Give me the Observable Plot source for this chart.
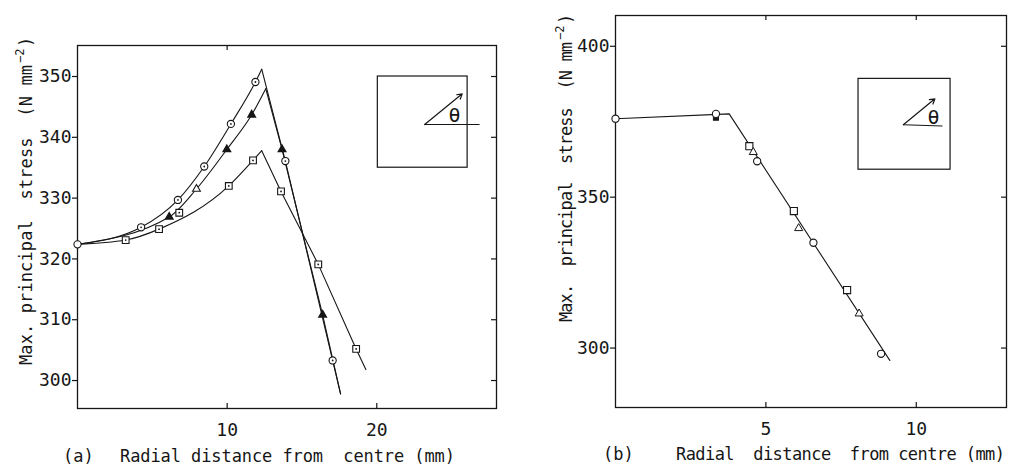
<!DOCTYPE html>
<html>
<head>
<meta charset="utf-8">
<script src="https://cdn.jsdelivr.net/npm/d3@7"></script>
<script src="https://cdn.jsdelivr.net/npm/@observablehq/plot@0.6"></script>
<style>
  html, body { margin: 0; padding: 0; background: #fff; }
  #wrap { position: relative; width: 1013px; height: 467px; overflow: hidden; }
  #a { position: absolute; left: 0; top: 0; }
  #b { position: absolute; left: 500px; top: 0; }
</style>
</head>
<body>
<div id="wrap"><div id="a"></div><div id="b"></div></div>
<script>
// ---------- Panel (a) data ----------
const aYTicks = [300, 310, 320, 330, 340, 350];
const aXTicks = [10, 20];
const aTopTicks = [10];
// markers
const aCircleX = [0, 4.25, 6.71, 8.47, 10.25, 11.89, 13.89, 17.05];
const aCircleY = [322.4, 325.2, 329.7, 335.2, 342.2, 349.1, 336.1, 303.3];
const aSquareX = [3.22, 5.45, 6.8, 10.11, 11.73, 13.6, 16.09, 18.62];
const aSquareY = [323.1, 324.9, 327.6, 332.0, 336.2, 331.1, 319.1, 305.2];
const aTriFilledX = [6.13, 9.98, 11.64, 13.67, 16.38];
const aTriFilledY = [326.9, 338.0, 343.7, 338.0, 310.8];
const aTriOpenX = [7.95];
const aTriOpenY = [331.5];
// fitted curves (rising part smooth, falling part straight)
const aCircRiseX = [0, 4.25, 6.71, 8.47, 10.25, 11.89, 12.31];
const aCircRiseY = [322.4, 325.2, 329.7, 335.2, 342.2, 349.1, 351.2];
const aCircFallX = [12.31, 13.89, 17.05, 17.58];
const aCircFallY = [351.2, 336.1, 303.3, 297.8];
const aTriRiseX = [0, 6.13, 7.95, 9.98, 11.64, 12.58];
const aTriRiseY = [322.4, 326.9, 331.5, 338.0, 343.7, 348.0];
const aTriFallX = [12.58, 13.67, 16.38, 17.58];
const aTriFallY = [348.0, 338.0, 310.8, 297.8];
const aSqRiseX = [0, 3.22, 5.45, 10.11, 11.73, 12.31];
const aSqRiseY = [322.4, 323.1, 324.9, 332.0, 336.2, 337.8];
const aSqFallX = [12.31, 13.6, 16.09, 18.62, 19.27];
const aSqFallY = [337.8, 331.1, 319.1, 305.2, 301.8];
// inset (angle definition)
const aBox = {x1: 20.07, x2: 26.07, y1: 335.0, y2: 350.0};
const aBase = {x1: 23.2, y1: 342.1, x2: 26.87, y2: 342.1};
const aArrow = {x1: 23.2, y1: 342.1, x2: 25.71, y2: 347.15};
const aTheta = {x: 25.2, y: 343.6, t: "θ"};

// ---------- Panel (b) data ----------
const bYTicks = [300, 350, 400];
const bXTicks = [5, 10];
const bLineX = [0, 3.78, 9.12];
const bLineY = [376.0, 377.6, 295.9];
const bCircleX = [0, 3.34, 4.71, 6.58, 8.83];
const bCircleY = [376.0, 377.6, 361.9, 334.9, 298.1];
const bSquareX = [4.45, 5.93, 7.70];
const bSquareY = [366.9, 345.4, 319.2];
const bSquareFilledX = [3.34];
const bSquareFilledY = [376.3];
const bTriX = [4.58, 6.09, 8.10];
const bTriY = [364.9, 339.7, 311.4];
const bBox = {x1: 8.08, x2: 11.14, y1: 359.1, y2: 389.2};
const bBase = {x1: 9.57, y1: 374.0, x2: 10.87, y2: 373.6};
const bArrow = {x1: 9.57, y1: 374.0, x2: 10.62, y2: 382.6};
const bTheta = {x: 10.57, y: 376.5, t: "θ"};

const zip = (xs, ys) => xs.map((x, i) => ({x, y: ys[i]}));
const ink = "#161616";
const FONT = "'DejaVu Sans Mono', monospace";

function panel({width, height, mL, mR, mT, mB, xDom, yDom, yTicks, xTicks, topTicks, marks}) {
  const pw = width - mL - mR, ph = height - mT - mB;
  return Plot.plot({
    width, height, marginLeft: mL, marginRight: mR, marginTop: mT, marginBottom: mB,
    x: {domain: xDom}, y: {domain: yDom},
    style: {fontFamily: FONT, fontSize: "18px", color: ink, background: "white", overflow: "visible"},
    marks: [
      Plot.frame({stroke: ink, strokeWidth: 1.3}),
      Plot.axisY({anchor: "left", ticks: yTicks, tickSize: 5, tickPadding: 1, label: null, strokeWidth: 1.2}),
      Plot.tickY(yTicks, {y: d => d, insetLeft: pw - 5, stroke: ink, strokeWidth: 1.2}),
      Plot.axisX({anchor: "bottom", ticks: xTicks, tickSize: 0, tickPadding: 15, label: null}),
      Plot.tickX(xTicks, {x: d => d, insetTop: ph - 5, stroke: ink, strokeWidth: 1.2}),
      Plot.tickX(topTicks, {x: d => d, insetBottom: ph - 5, stroke: ink, strokeWidth: 1.2}),
      ...marks
    ]
  });
}

function inset(box, base, arrow, theta) {
  return [
    Plot.rect([box], {x1: "x1", x2: "x2", y1: "y1", y2: "y2", fill: "none", stroke: ink, strokeWidth: 1.2}),
    Plot.link([base], {x1: "x1", y1: "y1", x2: "x2", y2: "y2", stroke: ink, strokeWidth: 1.1}),
    Plot.arrow([arrow], {x1: "x1", y1: "y1", x2: "x2", y2: "y2", stroke: ink, strokeWidth: 1.2, headLength: 7}),
    Plot.text([theta], {x: "x", y: "y", text: "t", fontSize: 20, fill: ink, fontFamily: FONT})
  ];
}

const lineStyle = {x: "x", y: "y", stroke: ink, strokeWidth: 1.1};

const plotA = panel({
  width: 500, height: 467, mL: 77, mR: 4, mT: 45, mB: 59,
  xDom: [0, 28], yDom: [295.4, 355.1],
  yTicks: aYTicks, xTicks: aXTicks, topTicks: aTopTicks,
  marks: [
    Plot.line(zip(aCircRiseX, aCircRiseY), {...lineStyle, curve: "monotone-x"}),
    Plot.line(zip(aCircFallX, aCircFallY), lineStyle),
    Plot.line(zip(aTriRiseX, aTriRiseY), {...lineStyle, curve: "monotone-x"}),
    Plot.line(zip(aTriFallX, aTriFallY), lineStyle),
    Plot.line(zip(aSqRiseX, aSqRiseY), {...lineStyle, curve: "monotone-x"}),
    Plot.line(zip(aSqFallX, aSqFallY), lineStyle),
    Plot.dot(zip(aCircleX, aCircleY), {x: "x", y: "y", r: 3.6, fill: "white", stroke: ink, strokeWidth: 1.1}),
    Plot.dot(zip(aCircleX.slice(1), aCircleY.slice(1)), {x: "x", y: "y", r: 0.9, fill: ink}),
    Plot.dot(zip(aSquareX, aSquareY), {x: "x", y: "y", symbol: "square", r: 3.8, fill: "white", stroke: ink, strokeWidth: 1.1}),
    Plot.dot(zip(aSquareX, aSquareY), {x: "x", y: "y", r: 0.9, fill: ink}),
    Plot.dot(zip(aTriFilledX, aTriFilledY), {x: "x", y: "y", symbol: "triangle", r: 2.7, fill: ink, stroke: ink}),
    Plot.dot(zip(aTriOpenX, aTriOpenY), {x: "x", y: "y", symbol: "triangle", r: 2.9, fill: "white", stroke: ink, strokeWidth: 1.1}),
    ...inset(aBox, aBase, aArrow, aTheta)
  ]
});

const plotB = panel({
  width: 513, height: 467, mL: 115, mR: 7, mT: 15, mB: 60,
  xDom: [0, 13], yDom: [280.3, 410.2],
  yTicks: bYTicks, xTicks: bXTicks, topTicks: bXTicks,
  marks: [
    Plot.line(zip(bLineX, bLineY), lineStyle),
    Plot.dot(zip(bSquareFilledX, bSquareFilledY), {x: "x", y: "y", symbol: "square", r: 2.6, fill: ink, stroke: ink}),
    Plot.dot(zip(bCircleX, bCircleY), {x: "x", y: "y", r: 3.6, fill: "white", stroke: ink, strokeWidth: 1.1}),
    Plot.dot(zip(bSquareX, bSquareY), {x: "x", y: "y", symbol: "square", r: 4, fill: "white", stroke: ink, strokeWidth: 1.1}),
    Plot.dot(zip(bTriX, bTriY), {x: "x", y: "y", symbol: "triangle", r: 3, fill: "white", stroke: ink, strokeWidth: 1}),
    ...inset(bBox, bBase, bArrow, bTheta)
  ]
});

document.getElementById("a").appendChild(plotA);
document.getElementById("b").appendChild(plotB);

function addText(svg, {x, y, text, size = 17, len = null}) {
  const t = d3.select(svg).append("text")
    .attr("x", x).attr("y", y)
    .attr("text-anchor", "start")
    .attr("font-family", FONT).attr("font-size", size)
    .attr("fill", ink).attr("xml:space", "preserve")
    .style("white-space", "pre")
    .text(text);
  if (len) t.attr("textLength", len).attr("lengthAdjust", "spacing");
  return t;
}
function addYTitle(svg, {x, y, main, len}) {
  const g = d3.select(svg).append("g")
    .attr("transform", `translate(${x},${y}) rotate(-90)`)
    .attr("text-anchor", "start")
    .attr("font-family", FONT).attr("fill", ink);
  g.append("text").attr("font-size", 17).attr("xml:space", "preserve").style("white-space", "pre")
    .attr("textLength", len).attr("lengthAdjust", "spacing").text(main);
  g.append("text").attr("x", len + 2).attr("y", -8).attr("font-size", 12).text("−2");
  g.append("text").attr("x", len + 18).attr("font-size", 17).text(")");
}

addText(plotA, {x: 63, y: 462, text: "(a)"});
addText(plotA, {x: 120, y: 462, text: "Radial distance from  centre (mm)", len: 335});
addYTitle(plotA, {x: 32, y: 365, main: "Max. principal  stress  (N mm", len: 300});

addText(plotB, {x: 103, y: 460, text: "(b)"});
addText(plotB, {x: 176, y: 460, text: "Radial  distance  from centre (mm)", len: 329});
addYTitle(plotB, {x: 72, y: 322, main: "Max.  principal  stress  (N mm", len: 280});
</script>
</body>
</html>
